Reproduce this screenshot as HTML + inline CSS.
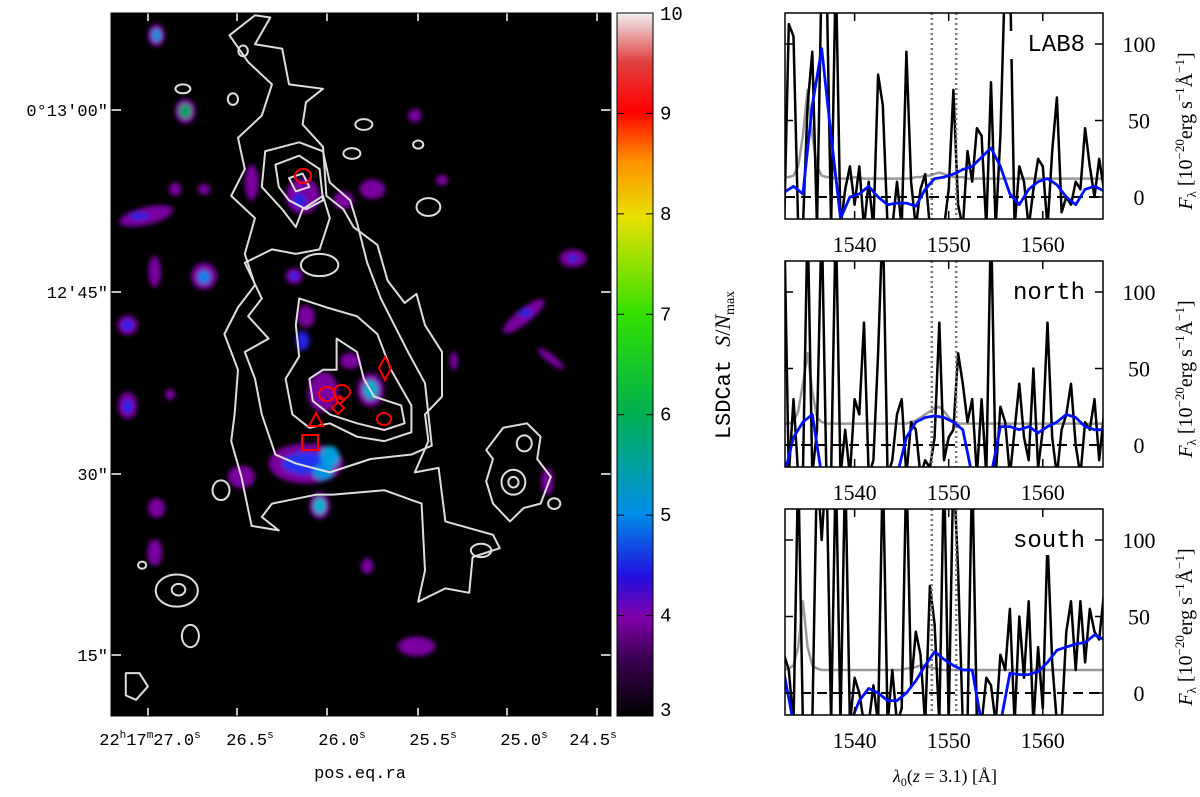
<!DOCTYPE html>
<html><head><meta charset="utf-8"><style>
body{margin:0;background:#fff;}
svg{display:block;font-family:"Liberation Serif","DejaVu Serif",serif;}
.mono{font-family:"Liberation Mono","DejaVu Sans Mono",monospace;}
</style></head><body>
<svg id="fig" width="1200" height="797" viewBox="0 0 1200 797" xmlns="http://www.w3.org/2000/svg">
<defs>
<filter id="blur" x="-50%" y="-50%" width="200%" height="200%"><feGaussianBlur stdDeviation="2.5"/></filter>
<linearGradient id="cbg" x1="0" y1="1" x2="0" y2="0">
<stop offset="0" stop-color="#000"/><stop offset="0.08" stop-color="#3a0050"/><stop offset="0.14" stop-color="#8000a8"/>
<stop offset="0.2" stop-color="#2010e0"/><stop offset="0.29" stop-color="#0090e8"/><stop offset="0.43" stop-color="#00b050"/>
<stop offset="0.57" stop-color="#30e000"/><stop offset="0.71" stop-color="#e8e000"/><stop offset="0.79" stop-color="#ff9000"/>
<stop offset="0.86" stop-color="#ff0000"/><stop offset="0.93" stop-color="#e04040"/><stop offset="1" stop-color="#f0f0f0"/>
</linearGradient>
<clipPath id="imgclip"><rect x="111" y="13" width="500" height="703"/></clipPath>
</defs>
<g id="image">
<rect x="111" y="13" width="500" height="703" fill="#000"/>
<g clip-path="url(#imgclip)">
<g filter="url(#blur)">
<g transform="translate(85,13) scale(0.34,0.446)">
<ellipse cx="210" cy="50" rx="25" ry="25" fill="#7a00a0"/><ellipse cx="210" cy="50" rx="14" ry="14" fill="#0090e0"/>
<ellipse cx="295" cy="220" rx="30" ry="28" fill="#7a00a0"/><ellipse cx="295" cy="220" rx="18" ry="16" fill="#00a060"/>
<ellipse cx="180" cy="455" rx="80" ry="20" fill="#7a00a0" transform="rotate(-10 180 455)"/><ellipse cx="160" cy="455" rx="30" ry="8" fill="#2020e0"/>
<ellipse cx="350" cy="590" rx="38" ry="30" fill="#7a00a0"/><ellipse cx="350" cy="592" rx="18" ry="15" fill="#0080f0"/>
<ellipse cx="125" cy="700" rx="30" ry="22" fill="#7a00a0"/><ellipse cx="125" cy="700" rx="16" ry="12" fill="#2020f0"/>
<ellipse cx="125" cy="880" rx="28" ry="30" fill="#7a00a0"/><ellipse cx="125" cy="882" rx="14" ry="15" fill="#2020f0"/>
<ellipse cx="205" cy="580" rx="18" ry="35" fill="#7a00a0"/>
<ellipse cx="490" cy="380" rx="20" ry="40" fill="#7a00a0"/>
<ellipse cx="640" cy="410" rx="50" ry="40" fill="#7a00a0"/><ellipse cx="630" cy="420" rx="20" ry="15" fill="#2020e0"/>
<ellipse cx="760" cy="420" rx="30" ry="20" fill="#7a00a0"/><ellipse cx="845" cy="395" rx="38" ry="22" fill="#7a00a0"/>
<ellipse cx="615" cy="590" rx="25" ry="18" fill="#7a00a0"/><ellipse cx="615" cy="590" rx="12" ry="9" fill="#2020f0"/>
<ellipse cx="650" cy="680" rx="25" ry="25" fill="#7a00a0"/><ellipse cx="640" cy="735" rx="20" ry="22" fill="#2020e0"/>
<ellipse cx="780" cy="780" rx="30" ry="18" fill="#7a00a0"/>
<ellipse cx="700" cy="850" rx="45" ry="45" fill="#7a00a0"/><ellipse cx="840" cy="845" rx="40" ry="38" fill="#7a00a0"/>
<ellipse cx="840" cy="845" rx="22" ry="22" fill="#00a8d0"/>
<ellipse cx="650" cy="1010" rx="110" ry="45" fill="#7a00a0"/><ellipse cx="650" cy="1010" rx="70" ry="25" fill="#2030f0"/>
<ellipse cx="720" cy="995" rx="28" ry="25" fill="#00a0e0"/><ellipse cx="700" cy="1030" rx="30" ry="18" fill="#0090e0"/>
<ellipse cx="690" cy="1105" rx="30" ry="30" fill="#7a00a0"/><ellipse cx="690" cy="1105" rx="18" ry="18" fill="#00b0d0"/>
<ellipse cx="460" cy="1040" rx="40" ry="25" fill="#7a00a0"/>
<ellipse cx="210" cy="1110" rx="25" ry="22" fill="#7a00a0"/><ellipse cx="205" cy="1210" rx="22" ry="30" fill="#7a00a0"/>
<ellipse cx="830" cy="1240" rx="18" ry="18" fill="#7a00a0"/><ellipse cx="975" cy="1420" rx="55" ry="22" fill="#7a00a0"/>
<ellipse cx="1435" cy="550" rx="40" ry="20" fill="#7a00a0"/><ellipse cx="1435" cy="550" rx="15" ry="8" fill="#2020e0"/>
<ellipse cx="1290" cy="680" rx="70" ry="18" fill="#7a00a0" transform="rotate(-30 1290 680)"/><ellipse cx="1295" cy="672" rx="20" ry="10" fill="#2020e0"/>
<ellipse cx="1370" cy="775" rx="45" ry="10" fill="#7a00a0" transform="rotate(30 1370 775)"/>
<ellipse cx="1360" cy="1050" rx="18" ry="30" fill="#7a00a0"/><ellipse cx="970" cy="230" rx="20" ry="15" fill="#7a00a0"/>
<ellipse cx="1050" cy="375" rx="18" ry="12" fill="#7a00a0"/><ellipse cx="1085" cy="780" rx="12" ry="20" fill="#7a00a0"/>
<ellipse cx="250" cy="855" rx="15" ry="12" fill="#7a00a0"/><ellipse cx="265" cy="395" rx="18" ry="15" fill="#7a00a0"/>
<ellipse cx="350" cy="395" rx="18" ry="12" fill="#7a00a0"/>
</g></g>
<g transform="translate(85,13) scale(0.34,0.446)" fill="none" stroke="#ddd" stroke-width="2" vector-effect="non-scaling-stroke" stroke-linejoin="round">
<g style="vector-effect:non-scaling-stroke">
<path vector-effect="non-scaling-stroke" d="M425,50 L500,5 L545,10 L500,70 L580,80 L590,120 L600,160 L700,170 L650,200 L640,250 L700,300 L710,410 L760,440 L790,480 L860,520 L890,600 L940,650 L975,630 L1000,700 L1050,760 L1050,860 L1000,900 L1010,960 L970,1030 L1040,1020 L1060,1140 L1200,1170 L1220,1200 L1140,1220 L1130,1300 L1060,1290 L980,1320 L1000,1250 L990,1100 L880,1070 L730,1080 L680,1080 L550,1100 L520,1130 L570,1160 L490,1150 L460,1040 L430,960 L440,900 L450,800 L410,720 L450,660 L500,610 L470,540 L500,460 L430,410 L470,350 L450,280 L520,230 L550,160 L480,110 Z"/>
<path vector-effect="non-scaling-stroke" d="M470,560 L550,530 L620,540 L690,530 L720,460 L700,410 L640,440 L620,480 L580,440 L520,390 L530,310 L630,290 L700,310 L720,380 L780,420 L800,470 L830,560 L870,640 L950,760 L1000,830 L1020,970 L960,990 L840,1000 L720,1030 L620,1010 L560,990 L520,900 L500,820 L470,760 L540,730 L480,680 L520,640 Z"/>
<path vector-effect="non-scaling-stroke" d="M630,640 L710,660 L800,680 L860,720 L900,800 L960,880 L960,940 L880,960 L800,950 L720,920 L660,930 L610,900 L590,820 L630,770 L620,700 Z"/>
<path vector-effect="non-scaling-stroke" d="M740,730 L800,760 L820,820 L850,860 L930,880 L940,920 L880,935 L800,920 L720,900 L670,870 L660,820 L700,800 L740,800 Z"/>
<path vector-effect="non-scaling-stroke" d="M560,340 L630,320 L690,350 L700,420 L650,440 L600,420 L570,390 Z"/>
<path vector-effect="non-scaling-stroke" d="M600,370 L640,360 L660,390 L620,400 Z"/>
<path vector-effect="non-scaling-stroke" d="M1180,980 L1230,930 L1300,920 L1340,950 L1330,1000 L1370,1040 L1340,1100 L1290,1110 L1250,1140 L1200,1100 L1180,1050 L1200,1000 Z"/>
<ellipse vector-effect="non-scaling-stroke" cx="1260" cy="1052" rx="35" ry="28"/><ellipse vector-effect="non-scaling-stroke" cx="1260" cy="1052" rx="15" ry="12"/><ellipse vector-effect="non-scaling-stroke" cx="1292" cy="965" rx="22" ry="18"/>
<ellipse vector-effect="non-scaling-stroke" cx="270" cy="1295" rx="62" ry="36"/><ellipse vector-effect="non-scaling-stroke" cx="275" cy="1293" rx="20" ry="13"/>
<ellipse vector-effect="non-scaling-stroke" cx="310" cy="1397" rx="25" ry="25"/><path vector-effect="non-scaling-stroke" d="M120,1480 L160,1480 L185,1510 L150,1540 L120,1530 Z"/>
<ellipse vector-effect="non-scaling-stroke" cx="1010" cy="435" rx="35" ry="20"/><ellipse vector-effect="non-scaling-stroke" cx="820" cy="250" rx="25" ry="12"/><ellipse vector-effect="non-scaling-stroke" cx="980" cy="295" rx="15" ry="9"/>
<ellipse vector-effect="non-scaling-stroke" cx="465" cy="85" rx="14" ry="12"/><ellipse vector-effect="non-scaling-stroke" cx="435" cy="193" rx="15" ry="13"/><ellipse vector-effect="non-scaling-stroke" cx="288" cy="170" rx="22" ry="10"/>
<ellipse vector-effect="non-scaling-stroke" cx="690" cy="565" rx="55" ry="25"/><ellipse vector-effect="non-scaling-stroke" cx="400" cy="1070" rx="25" ry="22"/><ellipse vector-effect="non-scaling-stroke" cx="1165" cy="1205" rx="30" ry="15"/>
<ellipse vector-effect="non-scaling-stroke" cx="1380" cy="1100" rx="18" ry="12"/><ellipse vector-effect="non-scaling-stroke" cx="785" cy="315" rx="25" ry="12"/><ellipse vector-effect="non-scaling-stroke" cx="168" cy="1238" rx="12" ry="8"/>
</g></g>
</g>
<g fill="none" stroke="#f00" stroke-width="2">
<ellipse cx="303" cy="176" rx="8" ry="7"/><ellipse cx="327" cy="394" rx="8" ry="7"/><ellipse cx="342" cy="392" rx="8" ry="7"/>
<ellipse cx="384" cy="419" rx="7" ry="6"/><path d="M385,357 L391,368 L385,380 L379,368 Z"/><path d="M332,408 L338,402 L344,408 L338,414 Z"/><path d="M336,400 L340,396 L344,400 L340,404 Z"/>
<path d="M316,413 L309,426 L323,426 Z"/><rect x="302" y="435" width="16" height="15"/>
</g>
<g stroke="#fff" stroke-width="1.5">
<line x1="111" y1="110" x2="121" y2="110"/><line x1="111" y1="292" x2="121" y2="292"/><line x1="111" y1="474" x2="121" y2="474"/><line x1="111" y1="655" x2="121" y2="655"/>
<line x1="601" y1="110" x2="611" y2="110"/><line x1="601" y1="292" x2="611" y2="292"/><line x1="601" y1="474" x2="611" y2="474"/><line x1="601" y1="655" x2="611" y2="655"/>
<line x1="148" y1="13" x2="148" y2="21"/><line x1="237" y1="13" x2="237" y2="21"/><line x1="327" y1="13" x2="327" y2="21"/><line x1="418" y1="13" x2="418" y2="21"/><line x1="507" y1="13" x2="507" y2="21"/><line x1="597" y1="13" x2="597" y2="21"/>
<line x1="148" y1="708" x2="148" y2="716"/><line x1="237" y1="708" x2="237" y2="716"/><line x1="327" y1="708" x2="327" y2="716"/><line x1="418" y1="708" x2="418" y2="716"/><line x1="507" y1="708" x2="507" y2="716"/><line x1="597" y1="708" x2="597" y2="716"/>
</g>
<rect x="111" y="13" width="500" height="703" fill="none" stroke="#000" stroke-width="1"/>
</g>
<g font-size="17" class="mono" text-anchor="end">
<text x="108" y="116">0°13'00"</text><text x="108" y="298">12'45"</text><text x="108" y="480">30"</text><text x="108" y="661">15"</text>
</g>
<g font-size="17" class="mono" text-anchor="middle">
<text x="150" y="745">22<tspan font-size="11" dy="-7">h</tspan><tspan dy="7">17</tspan><tspan font-size="11" dy="-7">m</tspan><tspan dy="7">27.0</tspan><tspan font-size="11" dy="-7">s</tspan></text>
<text x="250" y="745">26.5<tspan font-size="11" dy="-7">s</tspan></text><text x="342" y="745">26.0<tspan font-size="11" dy="-7">s</tspan></text>
<text x="433" y="745">25.5<tspan font-size="11" dy="-7">s</tspan></text><text x="524" y="745">25.0<tspan font-size="11" dy="-7">s</tspan></text><text x="593" y="745">24.5<tspan font-size="11" dy="-7">s</tspan></text>
</g>
<text x="360" y="778" font-size="17" class="mono" text-anchor="middle">pos.eq.ra</text>
<g>
<rect x="617" y="13" width="36" height="703" fill="url(#cbg)" stroke="#000"/>
<g id="cbticks" font-size="19" class="mono"></g>
<text transform="translate(730,365) rotate(-90)" font-size="22" text-anchor="middle"><tspan class="mono">LSDCat </tspan><tspan font-style="italic">S</tspan>/<tspan font-style="italic">N</tspan><tspan font-size="14" dy="4">max</tspan></text>
</g>
<g id="spectra"></g>
<text x="945" y="782" font-size="18" text-anchor="middle"><tspan font-style="italic">λ</tspan><tspan font-size="12" dy="4">0</tspan><tspan dy="-4">(</tspan><tspan font-style="italic">z</tspan> = 3.1) [Å]</text>
</svg>
<script>
const NS="http://www.w3.org/2000/svg";
const cbTicks=[3,4,5,6,7,8,9,10];
const lamStart=1532.5, lamStep=0.5, smoothStep=1.0;
const lab8Black=[-20,113,105,-20,-20,60,95,-20,150,150,-20,150,-20,5,20,-5,20,-20,10,-20,80,60,-20,-20,10,-20,95,10,-20,5,15,-20,-15,-20,-20,5,70,-5,-20,30,10,45,40,-20,75,-20,40,150,150,-20,20,10,-20,5,25,20,-20,30,65,-10,0,-5,10,5,45,20,0,25,5];
const lab8Grey=[13,13,14,20,40,70,40,20,14,13,13,12,12,12,12,13,12,12,12,12,12,12,12,12,12,12,12,12,13,13,14,14,15,16,15,14,13,13,13,12,12,12,12,12,12,12,12,12,12,12,12,12,12,12,12,12,12,12,12,12,12,12,12,12,12,12,12,12,12];
const lab8Blue=[3,7,2,60,97,40,-14,0,2,7,0,-5,-4,-4,-6,5,12,13,15,18,20,26,32,20,2,-5,5,10,12,8,0,-5,5,7,4];
const northBlack=[150,-20,30,-20,-20,150,-20,10,150,-20,-20,150,-20,10,-20,30,20,80,-20,-10,60,150,-20,-10,20,30,-20,15,10,-20,-10,-15,5,80,-10,5,10,60,40,15,30,-20,30,-20,150,-20,25,15,-20,10,40,5,-10,50,-15,10,80,5,-20,10,20,40,0,-20,15,10,30,-10,20];
const northGrey=[14,14,15,22,40,60,35,18,15,14,14,14,14,14,14,14,14,14,14,14,14,14,14,14,14,14,14,15,16,18,20,22,24,25,22,18,15,14,14,14,14,14,14,14,14,14,14,14,14,14,14,14,14,14,14,14,14,14,14,14,14,14,14,14,14,14,14,14,14];
const northBlue=[-20,5,15,20,-20,-20,-20,-20,-20,-20,-20,-20,-20,5,15,18,19,18,15,10,-20,-20,-20,12,12,10,12,8,12,15,20,18,12,10,10];
const southBlack=[25,15,-20,150,-20,-20,-20,150,100,150,-20,150,-20,150,-20,10,0,-20,-20,5,-20,150,-20,15,-20,-10,150,5,40,25,-20,70,45,-20,150,-20,150,80,-20,-20,150,-20,-20,10,5,-20,25,15,55,-20,50,10,60,-20,30,-10,100,20,-20,-20,40,60,15,60,20,55,40,35,65];
const southGrey=[15,16,18,30,60,30,18,16,15,15,15,15,15,15,15,15,15,15,15,15,15,15,15,15,15,15,16,16,17,18,18,17,16,15,15,15,15,15,15,15,15,15,15,15,15,15,15,15,15,15,15,15,15,15,15,15,15,15,15,15,15,15,15,15,15,15,15,15,15];
const southBlue=[13,-20,-20,-20,-20,-20,-20,-20,-5,3,0,-5,-5,0,8,18,27,22,18,15,15,-20,-20,-20,13,12,12,14,20,28,30,32,33,38,35];
const panelNames=["LAB8","north","south"];
const xTicks=[1540,1550,1560];
const yTicks=[0,50,100];
const doublet=[1548.2,1550.8];

const svg=document.getElementById('fig');
function mk(tag,attrs,parent){const e=document.createElementNS(NS,tag);for(const k in attrs)e.setAttribute(k,attrs[k]);(parent||svg).appendChild(e);return e;}
const cbg=document.getElementById('cbticks');
function cbY(v){return 716-(v-3)/(10-3)*703;}
cbTicks.forEach(v=>{
  const y=cbY(v);
  const l1=mk('line',{x1:617,x2:624,y1:y,y2:y,stroke:'#000'},cbg);
  
  
  mk('line',{x1:646,x2:653,y1:y,y2:y,stroke:'#000'},cbg);
  const t=mk('text',{x:660,y:Math.min(Math.max(y+6,20),716)},cbg);
  
  
  t.textContent=v;
});
const X0=785,X1=1103,L0=1532.6,L1=1566.4;
function xs(l){return X0+(l-L0)/(L1-L0)*(X1-X0);}
const tops=[13,261,509],H=206;
function ys(v,top){return top+184-v*1.53;}
const sp=document.getElementById('spectra');
const panels=[[lab8Black,lab8Grey,lab8Blue],[northBlack,northGrey,northBlue],[southBlack,southGrey,southBlue]];
panels.forEach((p,i)=>{
  const top=tops[i];
  const g=mk('g',{},sp);
  
  
  const cid='pc'+i;
  const cp=mk('clipPath',{id:cid},g);mk('rect',{x:X0,y:top,width:X1-X0,height:H},cp);
  const inner=mk('g',{'clip-path':'url(#'+cid+')'},g);
  const line=(arr,step,attrs,name)=>{
    const pts=arr.map((v,j)=>xs(lamStart+j*step).toFixed(1)+','+ys(v,top).toFixed(1)).join(' ');
    const e=mk('polyline',Object.assign({points:pts,fill:'none','stroke-linejoin':'round'},attrs),inner);
    
    
  };
  line(p[1],lamStep,{stroke:'#999','stroke-width':2.5},'noise-spectrum');
  line(p[0],lamStep,{stroke:'#000','stroke-width':2.5},'flux-spectrum');
  doublet.forEach(l=>{const d=mk('line',{x1:xs(l),x2:xs(l),y1:top,y2:top+H,stroke:'#777','stroke-width':2.5,'stroke-dasharray':'2,3'},inner);
    });
  const z=mk('line',{x1:X0,x2:X1,y1:ys(0,top),y2:ys(0,top),stroke:'#000','stroke-width':2,'stroke-dasharray':'10,6'},inner);
  
  line(p[2],smoothStep,{stroke:'#0010ff','stroke-width':2.8},'smoothed-spectrum');
  mk('rect',{x:1005,y:top+18,width:86,height:28,fill:'#fff'},g);
  const t=mk('text',{x:1085,y:top+38,'font-size':24,'text-anchor':'end',class:'mono'},g);
  
  t.textContent=panelNames[i];
  mk('rect',{x:X0,y:top,width:X1-X0,height:H,fill:'none',stroke:'#000','stroke-width':1.5},g);
  xTicks.forEach(l=>{
    mk('line',{x1:xs(l),x2:xs(l),y1:top,y2:top+8,stroke:'#000','stroke-width':1.5},g);
    mk('line',{x1:xs(l),x2:xs(l),y1:top+H,y2:top+H-8,stroke:'#000','stroke-width':1.5},g);
    const tt=mk('text',{x:xs(l),y:top+H+33,'font-size':22,'text-anchor':'middle'},g);
    
    tt.textContent=l;
  });
  yTicks.forEach(v=>{
    mk('line',{x1:X0,x2:X0+8,y1:ys(v,top),y2:ys(v,top),stroke:'#000','stroke-width':1.5},g);
    mk('line',{x1:X1,x2:X1-8,y1:ys(v,top),y2:ys(v,top),stroke:'#000','stroke-width':1.5},g);
    const tt=mk('text',{x:1139,y:ys(v,top)+8,'font-size':22,'text-anchor':'middle'},g);
    
    tt.textContent=v;
  });
  const yl=mk('text',{transform:'translate(1192,'+(top+118)+') rotate(-90)','font-size':20,'text-anchor':'middle'},g);
  
  yl.innerHTML='<tspan font-style="italic">F</tspan><tspan font-size="13" dy="4">λ</tspan><tspan dy="-4"> [10</tspan><tspan font-size="13" dy="-8">−20</tspan><tspan dy="8">erg s</tspan><tspan font-size="13" dy="-8">−1</tspan><tspan dy="8">Å</tspan><tspan font-size="13" dy="-8">−1</tspan><tspan dy="8">]</tspan>';
});
</script>
</body></html>
